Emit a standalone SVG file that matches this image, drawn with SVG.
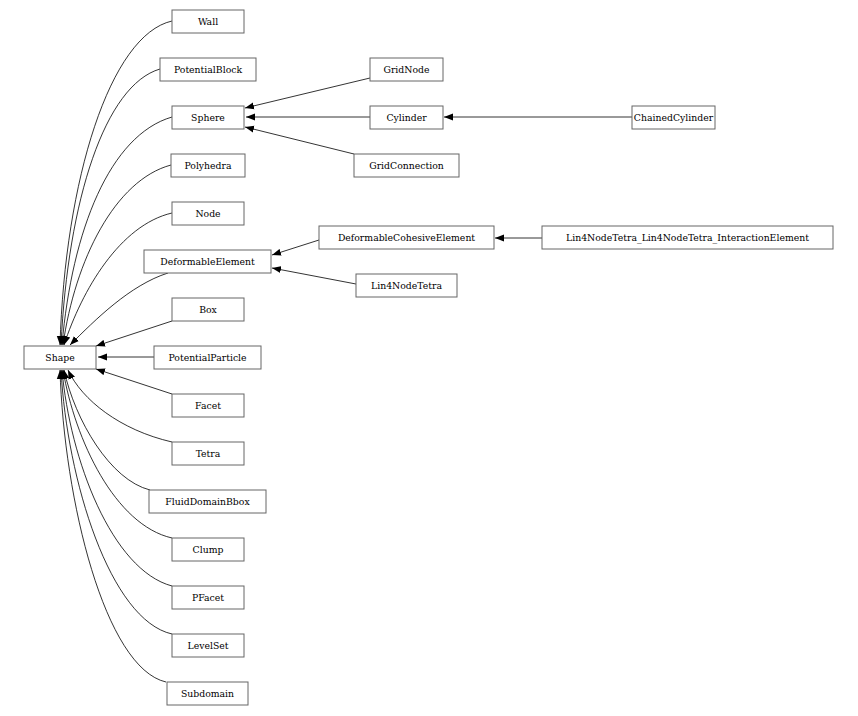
<svg xmlns="http://www.w3.org/2000/svg" width="858" height="716" viewBox="0 0 858 716">
<defs><marker id="a" markerWidth="10" markerHeight="8" refX="9" refY="4" orient="auto" markerUnits="userSpaceOnUse"><path d="M0,0.5 L9,4 L0,7.5z" fill="#000"/></marker></defs>
<style>rect{fill:#fff;stroke:#666;stroke-width:1}text{font-family:"DejaVu Serif",serif;font-size:9.3px;font-weight:normal;text-anchor:middle}.e path{fill:none;stroke:#000;stroke-width:0.8;marker-end:url(#a)}</style>
<rect x="0" y="0" width="858" height="716" style="stroke:none"/>
<g class="e">
<path d="M172,21 C110,35 65,180 60,345"/>
<path d="M160,69 C105,85 68,200 61,345"/>
<path d="M172,117 C110,135 72,230 62,345"/>
<path d="M171,165 C115,180 75,260 63,345"/>
<path d="M172,213 C120,225 82,290 64,345"/>
<path d="M168,273 C130,285 95,320 70,345"/>
<path d="M172,321 L96,346"/>
<path d="M154,357 L98,357"/>
<path d="M172,394 L96,369"/>
<path d="M172,442 C120,430 82,400 68,370"/>
<path d="M150,490 C110,480 75,420 64,370"/>
<path d="M172,538 C115,525 75,440 63,370"/>
<path d="M172,586 C112,570 70,460 62,370"/>
<path d="M172,634 C110,620 67,480 61,370"/>
<path d="M166,682 C105,668 64,500 60,370"/>
<path d="M370,78 L245,108"/>
<path d="M370,117 L246,117"/>
<path d="M354,154 L245,127"/>
<path d="M632,117 L444,117"/>
<path d="M319,240 L272,255"/>
<path d="M356,284 L272,268"/>
<path d="M542,238 L495,238"/>
</g>
<g id="n-wall"><rect x="172" y="10" width="72" height="23"/><text x="208" y="25">Wall</text></g>
<g id="n-pblock"><rect x="160" y="58" width="96" height="23"/><text x="208" y="73">PotentialBlock</text></g>
<g id="n-sphere"><rect x="172" y="106" width="72" height="23"/><text x="208" y="121">Sphere</text></g>
<g id="n-poly"><rect x="171" y="154" width="74" height="23"/><text x="208" y="169">Polyhedra</text></g>
<g id="n-node"><rect x="172" y="202" width="72" height="23"/><text x="208" y="217">Node</text></g>
<g id="n-def"><rect x="144" y="250" width="127" height="23"/><text x="207.5" y="265">DeformableElement</text></g>
<g id="n-box"><rect x="172" y="298" width="72" height="23"/><text x="208" y="313">Box</text></g>
<g id="n-shape"><rect x="24" y="346" width="72" height="23"/><text x="60" y="361">Shape</text></g>
<g id="n-pp"><rect x="154" y="346" width="107" height="23"/><text x="207.5" y="361">PotentialParticle</text></g>
<g id="n-facet"><rect x="172" y="394" width="72" height="23"/><text x="208" y="409">Facet</text></g>
<g id="n-tetra"><rect x="172" y="442" width="72" height="23"/><text x="208" y="457">Tetra</text></g>
<g id="n-fdb"><rect x="149" y="490" width="117" height="23"/><text x="207.5" y="505">FluidDomainBbox</text></g>
<g id="n-clump"><rect x="172" y="538" width="72" height="23"/><text x="208" y="553">Clump</text></g>
<g id="n-pfacet"><rect x="172" y="586" width="72" height="23"/><text x="208" y="601">PFacet</text></g>
<g id="n-ls"><rect x="172" y="634" width="72" height="23"/><text x="208" y="649">LevelSet</text></g>
<g id="n-sub"><rect x="167" y="682" width="81" height="23"/><text x="207.5" y="697">Subdomain</text></g>
<g id="n-gn"><rect x="370" y="58" width="73" height="23"/><text x="406.5" y="73">GridNode</text></g>
<g id="n-cyl"><rect x="370" y="106" width="73" height="23"/><text x="406.5" y="121">Cylinder</text></g>
<g id="n-gc"><rect x="354" y="154" width="105" height="23"/><text x="406.5" y="169">GridConnection</text></g>
<g id="n-cc"><rect x="632" y="106" width="83" height="23"/><text x="673.5" y="121">ChainedCylinder</text></g>
<g id="n-dce"><rect x="319" y="226" width="175" height="23"/><text x="406.5" y="241">DeformableCohesiveElement</text></g>
<g id="n-l4"><rect x="356" y="274" width="101" height="23"/><text x="406.5" y="289">Lin4NodeTetra</text></g>
<g id="n-l4i"><rect x="542" y="226" width="291" height="23"/><text x="687.5" y="241">Lin4NodeTetra_Lin4NodeTetra_InteractionElement</text></g>
</svg>
